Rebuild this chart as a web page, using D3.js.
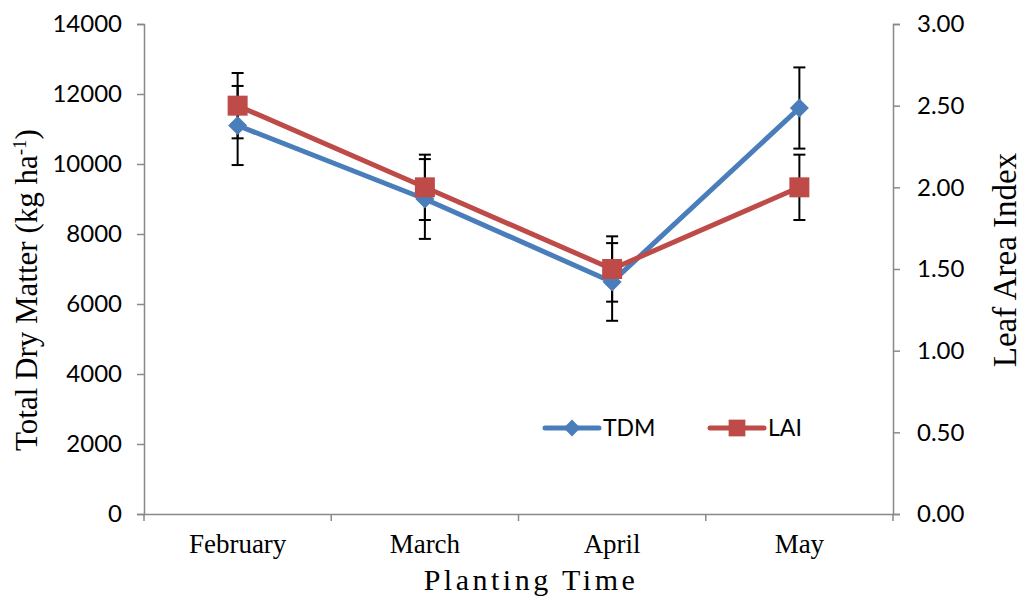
<!DOCTYPE html>
<html>
<head>
<meta charset="utf-8">
<script src="https://cdn.jsdelivr.net/npm/d3@7"></script>
<style>
  body { margin: 0; background: #fff; }
  .tick text { font-family: Lato, sans-serif; }
</style>
</head>
<body>
<svg id="canvas"></svg>
<script>
const width = 1022;
const height = 597;

const months = ["February", "March", "April", "May"];
const tdm = [11100, 9000, 6630, 11600];
const tdmErr = [1130, 1140, 1110, 1160];
const lai = [2.5, 2.0, 1.5, 2.0];
const laiErr = [0.2, 0.2, 0.2, 0.2];
const leftTicks = [0, 2000, 4000, 6000, 8000, 10000, 12000, 14000];
const rightTicks = [0, 0.5, 1, 1.5, 2, 2.5, 3];

const blue = "#4a7ebb";
const red = "#be4b48";
const grey = "#898989";

let canvas = d3.select("#canvas").attr("width", width).attr("height", height);

const plotLeft = 144, plotRight = 893, plotTop = 24, plotBottom = 514;

const x = d3.scaleBand().domain(months).range([plotLeft, plotRight]);
const yL = d3.scaleLinear().domain([0, 14000]).range([plotBottom, plotTop]);
const yR = d3.scaleLinear().domain([0, 3]).range([plotBottom, plotTop]);
const cx = m => x(m) + x.bandwidth() / 2;

// axes
const axL = canvas.append("g").attr("transform", `translate(${plotLeft},0)`)
    .call(d3.axisLeft(yL).tickValues(leftTicks).tickSize(7).tickPadding(15).tickFormat(d3.format("d")));
const axR = canvas.append("g").attr("transform", `translate(${plotRight},0)`)
    .call(d3.axisRight(yR).tickValues(rightTicks).tickSize(7).tickPadding(17).tickFormat(d3.format(".2f")));
const axB = canvas.append("g").attr("transform", `translate(0,${plotBottom})`)
    .call(d3.axisBottom(x).tickSize(0).tickFormat(""));

[axL, axR, axB].forEach(g => {
    g.select(".domain").attr("stroke", grey).attr("stroke-width", 1.5);
    g.selectAll(".tick line").attr("stroke", grey).attr("stroke-width", 1.5);
    g.selectAll(".tick text").attr("font-size", 24).attr("fill", "#000");
});

// category boundary ticks
canvas.append("g").selectAll("line")
    .data(months.concat(["end"]))
    .enter().append("line")
    .attr("x1", (d, i) => plotLeft + i * x.bandwidth())
    .attr("x2", (d, i) => plotLeft + i * x.bandwidth())
    .attr("y1", plotBottom).attr("y2", plotBottom + 7)
    .attr("stroke", grey).attr("stroke-width", 1.5);

canvas.append("g").selectAll("text")
    .data(months)
    .enter().append("text")
    .attr("x", cx).attr("y", 553)
    .attr("text-anchor", "middle")
    .attr("font-family", "Liberation Serif, serif")
    .attr("font-size", 27)
    .text(d => d);

// titles
canvas.append("text")
    .attr("transform", "translate(37,290) rotate(-90)")
    .attr("text-anchor", "middle")
    .attr("font-family", "Liberation Serif, serif")
    .attr("font-size", 31)
    .call(t => {
        t.append("tspan").text("Total Dry Matter (kg ha");
        t.append("tspan").attr("dy", -11).attr("font-size", 19).text("-1");
        t.append("tspan").attr("dy", 11).text(")");
    });

canvas.append("text")
    .attr("transform", "translate(1016,260) rotate(-90)")
    .attr("text-anchor", "middle")
    .attr("font-family", "Liberation Serif, serif")
    .attr("font-size", 33)
    .text("Leaf Area Index");

canvas.append("text")
    .attr("x", 531).attr("y", 590)
    .attr("text-anchor", "middle")
    .attr("font-family", "Liberation Serif, serif")
    .attr("font-size", 30)
    .attr("letter-spacing", 3.5)
    .text("Planting Time");

// error bars
const drawErr = (vals, errs, y) => {
    const g = canvas.append("g").attr("stroke", "#000").attr("stroke-width", 2);
    vals.forEach((v, i) => {
        const px = cx(months[i]);
        g.append("line").attr("x1", px).attr("x2", px).attr("y1", y(v - errs[i])).attr("y2", y(v + errs[i]));
        [v - errs[i], v + errs[i]].forEach(e => {
            g.append("line").attr("x1", px - 6).attr("x2", px + 6).attr("y1", y(e)).attr("y2", y(e));
        });
    });
};
drawErr(tdm, tdmErr, yL);
drawErr(lai, laiErr, yR);

// series
const diamond = d3.symbol().type(d3.symbolDiamond2).size(230);
const square = d3.symbol().type(d3.symbolSquare).size(400);

const drawSeries = (vals, y, color, sym) => {
    const line = d3.line().x((d, i) => cx(months[i])).y(d => y(d));
    canvas.append("path").datum(vals)
        .attr("d", line).attr("fill", "none")
        .attr("stroke", color).attr("stroke-width", 5)
        .attr("stroke-linejoin", "round");
    canvas.append("g").selectAll("path")
        .data(vals)
        .enter().append("path")
        .attr("d", sym)
        .attr("transform", (d, i) => `translate(${cx(months[i])},${y(d)})`)
        .attr("fill", color);
};
drawSeries(tdm, yL, blue, diamond);
drawSeries(lai, yR, red, square);

// legend
const legend = [
    { name: "TDM", color: blue, x: 545 },
    { name: "LAI", color: red, x: 710 }
];
const lg = canvas.append("g").selectAll("g").data(legend).enter().append("g")
    .attr("transform", d => `translate(${d.x},428)`);
lg.append("line").attr("x1", 0).attr("x2", 54).attr("y1", 0).attr("y2", 0)
    .attr("stroke", d => d.color).attr("stroke-width", 5).attr("stroke-linecap", "round");
lg.append("path").attr("d", d => d3.symbol().type(d.name === "TDM" ? d3.symbolDiamond2 : d3.symbolSquare).size(d.name === "TDM" ? 180 : 280)())
    .attr("transform", "translate(27,0)").attr("fill", d => d.color);
lg.append("text").attr("x", 58).attr("y", 8)
    .attr("font-family", "Lato, sans-serif").attr("font-size", 23)
    .text(d => d.name);
</script>
</body>
</html>
